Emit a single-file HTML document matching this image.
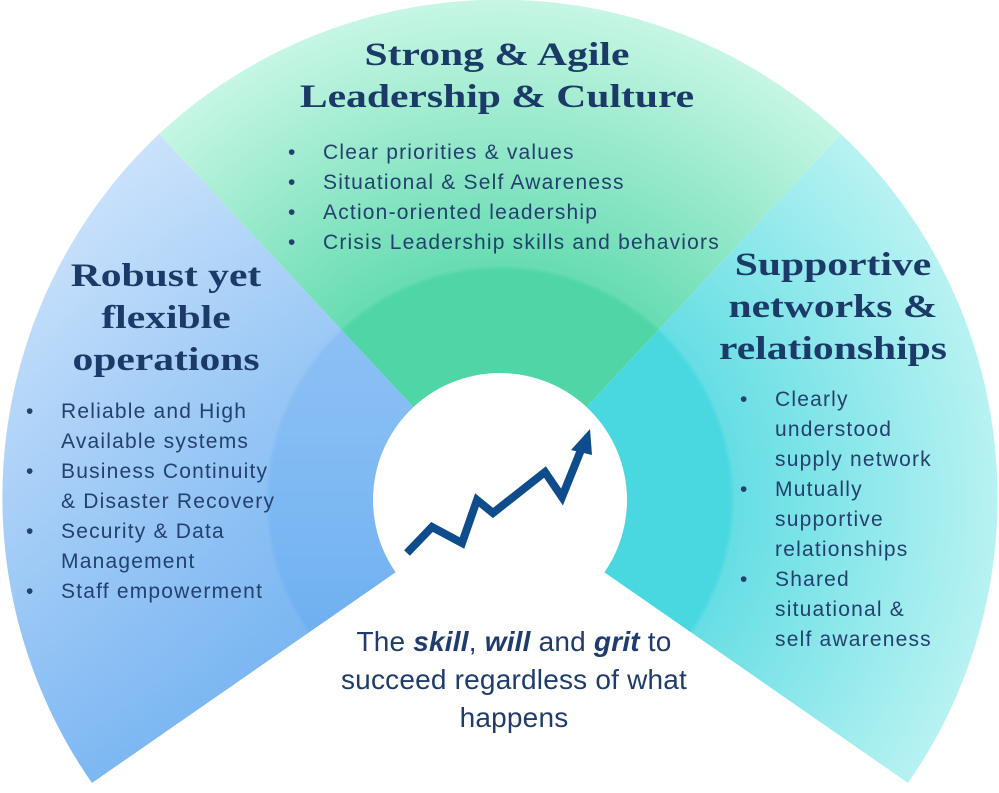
<!DOCTYPE html>
<html><head><meta charset="utf-8"><style>
html,body{margin:0;padding:0;background:#fff}
body{width:999px;height:793px;position:relative;overflow:hidden;font-family:"Liberation Sans",sans-serif;color:#1f3c6c}
.t{position:absolute;font-family:"Liberation Serif",serif;font-weight:bold;color:#1b3a68;font-size:33px;text-align:center;line-height:42px;transform:scaleX(1.26);transform-origin:center}
.b{position:absolute;font-size:21px;line-height:30px;color:#24406e;letter-spacing:1.2px}
.b div{position:relative;white-space:nowrap}
.b div span{position:absolute;left:-35px}
</style></head><body>
<svg width="999" height="793" style="position:absolute;left:0;top:0">
<defs>
<radialGradient id="gl" cx="500" cy="500" r="500" gradientUnits="userSpaceOnUse">
<stop offset="0.46" stop-color="#6eb0f2"/><stop offset="0.47" stop-color="#86bdf4"/><stop offset="1" stop-color="#b8d8fa"/></radialGradient>
<linearGradient id="gl2" x1="0" y1="150" x2="0" y2="790" gradientUnits="userSpaceOnUse">
<stop offset="0" stop-color="#fff" stop-opacity="0.25"/><stop offset="1" stop-color="#3f95ea" stop-opacity="0.5"/></linearGradient>
<radialGradient id="gt" cx="500" cy="500" r="500" gradientUnits="userSpaceOnUse">
<stop offset="0.46" stop-color="#50d6a6"/><stop offset="0.47" stop-color="#68dcb2"/><stop offset="1" stop-color="#c6f6e4"/></radialGradient>
<radialGradient id="gr" cx="500" cy="500" r="500" gradientUnits="userSpaceOnUse">
<stop offset="0.46" stop-color="#4ad8e0"/><stop offset="0.47" stop-color="#66dee4"/><stop offset="1" stop-color="#b8f2f2"/></radialGradient>
</defs>
<path d="M500,500 L92,783 A500,500 0 0 1 159,134 Z" fill="url(#gl)"/>
<path d="M500,500 L92,783 A500,500 0 0 1 159,134 Z" fill="url(#gl2)"/>
<path d="M500,500 L159,134 A500,500 0 0 1 841,134 Z" fill="url(#gt)"/>
<path d="M500,500 L841,134 A500,500 0 0 1 908,783 Z" fill="url(#gr)"/>
<path d="M500,500 L92,783 L0,793 L999,793 L908,783 Z" fill="#fff"/>
<circle cx="500" cy="500" r="127" fill="#fff"/>
<polyline points="407,553 432,527 462,543 477,500 493,513 545,472 562,497 583,445" fill="none" stroke="#0f4c8c" stroke-width="8" stroke-linejoin="miter"/>
<polygon points="590,429 571,450 592,455" fill="#0f4c8c"/>
</svg>
<div class="t" style="left:250px;width:494px;top:34px">Strong &amp; Agile<br>Leadership &amp; Culture</div>
<div class="b" style="left:323px;top:138px"><div><span>•</span>Clear priorities &amp; values</div><div><span>•</span>Situational &amp; Self Awareness</div><div><span>•</span>Action-oriented leadership</div><div><span>•</span>Crisis Leadership skills and behaviors</div></div>
<div class="t" style="left:30px;width:272px;top:255px">Robust yet<br>flexible<br>operations</div>
<div class="b" style="left:61px;top:397px"><div><span>•</span>Reliable and High</div><div>Available systems</div><div><span>•</span>Business Continuity</div><div>&amp; Disaster Recovery</div><div><span>•</span>Security &amp; Data</div><div>Management</div><div><span>•</span>Staff empowerment</div></div>
<div class="t" style="left:700px;width:266px;top:244px">Supportive<br>networks &amp;<br>relationships</div>
<div class="b" style="left:775px;top:385px"><div><span>•</span>Clearly</div><div>understood</div><div>supply network</div><div><span>•</span>Mutually</div><div>supportive</div><div>relationships</div><div><span>•</span>Shared</div><div>situational &amp;</div><div>self awareness</div></div>
<div style="position:absolute;left:264px;width:500px;top:623px;text-align:center;font-size:28px;line-height:38px;letter-spacing:0.2px;color:#1f3c6c">The <i><b>skill</b></i>, <i><b>will</b></i> and <i><b>grit</b></i> to<br>succeed regardless of what<br>happens</div>
</body></html>
